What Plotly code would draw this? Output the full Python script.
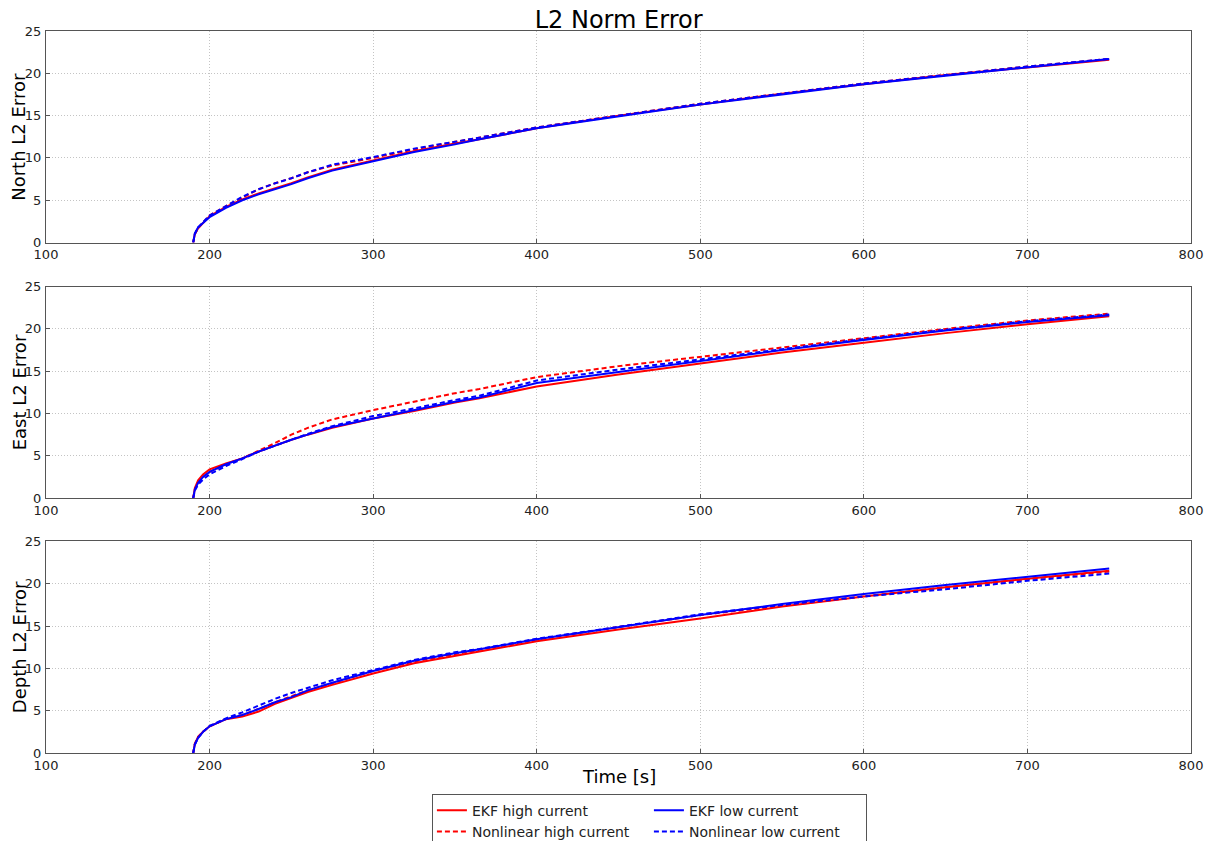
import plotly.graph_objects as go

# ---- data ----
time_s = [190, 191, 193, 196, 200, 210, 220, 230, 240, 250, 260, 275, 300, 325, 350, 365, 400, 450, 500, 550, 600, 650, 700, 750]

north_ekf_high = [0, 1.0, 1.7, 2.3, 3.1, 4.2, 5.1, 5.8, 6.4, 7.0, 7.7, 8.6, 9.7, 10.8, 11.7, 12.2, 13.5, 15.0, 16.3, 17.6, 18.7, 19.8, 20.7, 21.6]
north_nl_high = [0, 1.0, 1.7, 2.4, 3.2, 4.3, 5.3, 6.3, 7.0, 7.6, 8.3, 9.1, 10.0, 11.0, 11.9, 12.4, 13.6, 15.0, 16.4, 17.6, 18.8, 19.8, 20.8, 21.7]
north_ekf_low = [0, 1.1, 1.8, 2.3, 3.0, 4.1, 5.0, 5.7, 6.3, 6.9, 7.6, 8.5, 9.6, 10.7, 11.6, 12.2, 13.5, 14.9, 16.3, 17.5, 18.7, 19.7, 20.7, 21.7]
north_nl_low = [0, 1.0, 1.8, 2.4, 3.2, 4.3, 5.4, 6.3, 7.0, 7.6, 8.3, 9.2, 10.1, 11.1, 11.9, 12.4, 13.6, 15.0, 16.4, 17.6, 18.8, 19.8, 20.8, 21.7]

east_ekf_high = [0, 1.2, 2.1, 2.8, 3.4, 4.1, 4.7, 5.5, 6.2, 6.9, 7.5, 8.3, 9.4, 10.3, 11.3, 11.8, 13.2, 14.6, 15.9, 17.2, 18.35, 19.5, 20.55, 21.5]
east_nl_high = [0, 1.0, 1.8, 2.5, 3.1, 4.0, 4.7, 5.6, 6.5, 7.5, 8.3, 9.3, 10.4, 11.4, 12.4, 12.9, 14.3, 15.6, 16.7, 17.8, 18.9, 20.0, 21.0, 21.8]
east_ekf_low = [0, 1.0, 1.8, 2.5, 3.1, 4.0, 4.7, 5.5, 6.2, 6.9, 7.5, 8.4, 9.4, 10.4, 11.4, 11.9, 13.6, 14.9, 16.2, 17.5, 18.7, 19.8, 20.8, 21.6]
east_nl_low = [0, 0.9, 1.6, 2.2, 2.8, 3.8, 4.6, 5.5, 6.2, 6.9, 7.6, 8.5, 9.7, 10.6, 11.6, 12.1, 13.9, 15.2, 16.4, 17.6, 18.8, 19.9, 20.9, 21.7]

depth_ekf_high = [0, 1.1, 1.9, 2.5, 3.15, 4.0, 4.3, 4.9, 5.8, 6.5, 7.2, 8.05, 9.4, 10.6, 11.5, 12.0, 13.2, 14.6, 15.9, 17.3, 18.5, 19.6, 20.6, 21.55]
depth_nl_high = [0, 1.1, 1.9, 2.5, 3.15, 4.0, 4.5, 5.2, 6.0, 6.7, 7.4, 8.25, 9.7, 10.8, 11.7, 12.2, 13.4, 14.9, 16.3, 17.4, 18.5, 19.6, 20.55, 21.45]
depth_ekf_low = [0, 1.0, 1.8, 2.5, 3.15, 4.0, 4.5, 5.2, 6.0, 6.6, 7.4, 8.3, 9.7, 10.9, 11.8, 12.25, 13.45, 14.9, 16.3, 17.6, 18.8, 19.85, 20.8, 21.8]
depth_nl_low = [0, 1.0, 1.8, 2.5, 3.2, 4.1, 4.8, 5.6, 6.4, 7.1, 7.7, 8.6, 9.8, 11.0, 11.9, 12.3, 13.5, 14.9, 16.4, 17.5, 18.5, 19.35, 20.35, 21.2]

panel_titles = ["North L2 Error", "East L2 Error", "Depth L2 Error"]
series_names = ["EKF high current", "Nonlinear high current", "EKF low current", "Nonlinear low current"]
x_ticks = [100, 200, 300, 400, 500, 600, 700, 800]
y_ticks = [0, 5, 10, 15, 20, 25]

panels = [
    [north_ekf_high, north_nl_high, north_ekf_low, north_nl_low],
    [east_ekf_high, east_nl_high, east_ekf_low, east_nl_low],
    [depth_ekf_high, depth_nl_high, depth_ekf_low, depth_nl_low],
]

styles = [
    dict(color="#ff0000", dash="solid", group="high"),
    dict(color="#ff0000", dash="5px,3px", group="high"),
    dict(color="#0000ff", dash="solid", group="low"),
    dict(color="#0000ff", dash="5px,3px", group="low"),
]

domains = [[0.707, 1.0], [0.353, 0.646], [0.0, 0.293]]

fig = go.Figure()
font_family = "DejaVu Sans"

for p, series in enumerate(panels):
    xa = "x" if p == 0 else f"x{p+1}"
    ya = "y" if p == 0 else f"y{p+1}"
    for s, vals in enumerate(series):
        st = styles[s]
        fig.add_trace(go.Scatter(
            x=time_s, y=vals, mode="lines",
            name=series_names[s],
            legendgroup=st["group"],
            showlegend=(p == 0),
            line=dict(color=st["color"], width=2, dash=st["dash"]),
            xaxis=xa, yaxis=ya,
        ))

axis_common = dict(
    showline=True, mirror=True, linecolor="#555555", linewidth=1,
    showgrid=True, gridcolor="#c4c4c4", griddash="1px,2px", gridwidth=1,
    zeroline=False, ticks="inside", ticklen=4, tickcolor="#555555",
    tickfont=dict(family=font_family, size=13, color="#222222"),
)

layout = dict(
    width=1207, height=841,
    margin=dict(l=46, r=16, t=31, b=88, autoexpand=False),
    paper_bgcolor="white", plot_bgcolor="white",
    font=dict(family=font_family, color="#222222"),
    title=dict(text="L2 Norm Error", x=0.5125, xanchor="center", y=1 - 20 / 841, yanchor="middle",
               yref="container", font=dict(size=24, color="black", family=font_family)),
    legend=dict(
        orientation="h", traceorder="grouped",
        entrywidth=172, entrywidthmode="pixels",
        x=0.527, xanchor="center", y=-(794 - 753.3) / 722.3, yanchor="top",
        bordercolor="#555555", borderwidth=1, bgcolor="white",
        font=dict(size=14, family=font_family, color="#222222"),
        itemwidth=30,
    ),
)

annotations = []
for p in range(3):
    xkey = "xaxis" if p == 0 else f"xaxis{p+1}"
    ykey = "yaxis" if p == 0 else f"yaxis{p+1}"
    ya = "y" if p == 0 else f"y{p+1}"
    layout[xkey] = dict(axis_common, range=[100, 800], tickvals=x_ticks, domain=[0, 1],
                        anchor=ya)
    layout[ykey] = dict(axis_common, range=[0, 25], tickvals=y_ticks, domain=domains[p],
                        anchor="x" if p == 0 else f"x{p+1}", ticklabelstandoff=1)
    dom = domains[p]
    annotations.append(dict(
        text=panel_titles[p], textangle=-90, xref="paper", yref="paper",
        x=-(46 - 19) / 1145, y=(dom[0] + dom[1]) / 2, xanchor="center", yanchor="middle",
        showarrow=False, font=dict(size=18, family=font_family, color="black"),
    ))

annotations.append(dict(
    text="Time [s]", xref="paper", yref="paper", x=0.5, y=-(777 - 753.3) / 722.3,
    xanchor="center", yanchor="middle", showarrow=False,
    font=dict(size=18, family=font_family, color="black"),
))
layout["annotations"] = annotations

fig.update_layout(**layout)
fig.write_html("out.html")
